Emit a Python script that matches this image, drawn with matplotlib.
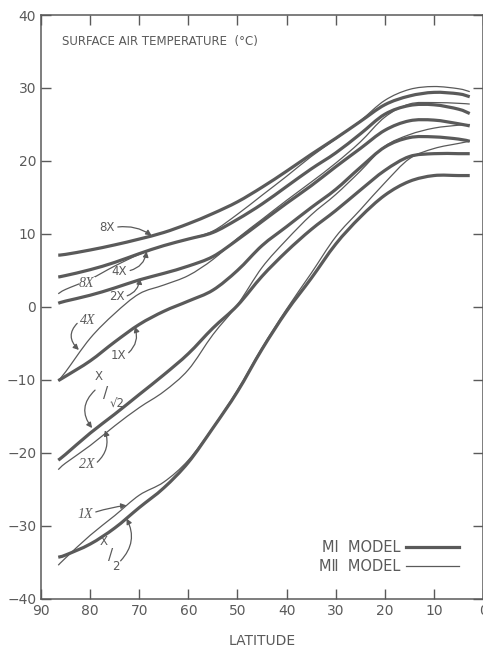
"""Zonal mean surface air temperature vs latitude for CO2 multiples (MI / MII models)."""

import matplotlib

matplotlib.use("Agg")
import matplotlib.pyplot as plt
import numpy as np
from matplotlib.lines import Line2D
from matplotlib.patches import PathPatch
from matplotlib.path import Path

# latitude grid the curves were read on (deg N)
LAT = [86.5, 85, 80, 75, 70, 65, 60, 55, 50, 45, 40, 35, 30, 25, 20, 15, 10, 5, 2.7]

# MI model (thick lines)
MI_8X = [7.1, 7.2, 7.8, 8.5, 9.3, 10.2, 11.4, 12.8, 14.4, 16.4, 18.6, 20.9, 23.1, 25.4, 27.7, 28.9, 29.4, 29.2, 28.8]
MI_4X = [4.1, 4.3, 5.1, 6.1, 7.3, 8.4, 9.3, 10.2, 12.0, 14.1, 16.5, 18.9, 21.1, 23.7, 26.4, 27.6, 27.7, 27.1, 26.5]
MI_2X = [0.5, 0.8, 1.6, 2.6, 3.7, 4.6, 5.6, 6.9, 9.2, 11.7, 14.2, 16.6, 19.2, 21.7, 24.2, 25.5, 25.6, 25.1, 24.8]
MI_1X = [-10.1, -9.5, -7.4, -4.8, -2.4, -0.6, 0.8, 2.3, 5.0, 8.4, 11.0, 13.6, 16.1, 19.1, 21.9, 23.2, 23.3, 23.0, 22.7]
MI_XR2 = [-21.0, -20.2, -17.3, -14.7, -12.0, -9.3, -6.4, -2.9, 0.2, 4.2, 7.6, 10.6, 13.2, 16.0, 18.7, 20.6, 21.0, 21.0, 21.0]
MI_X2 = [-34.3, -34.0, -32.5, -30.3, -27.5, -24.8, -21.3, -16.6, -11.6, -5.8, -0.6, 3.9, 8.6, 12.3, 15.3, 17.2, 18.0, 18.0, 18.0]

# MII model (thin lines)
MII_8X = [1.8, 2.4, 3.8, 5.6, 7.2, 8.4, 9.3, 10.4, 12.7, 15.3, 17.9, 20.6, 23.0, 25.5, 28.3, 29.8, 30.2, 29.9, 29.5]
MII_4X = [-10.1, -8.9, -4.3, -0.9, 1.8, 3.0, 4.3, 6.5, 9.4, 12.0, 14.6, 17.1, 19.7, 22.6, 26.0, 27.8, 28.0, 27.9, 27.8]
MII_2X = [-22.3, -21.4, -19.0, -16.3, -13.8, -11.6, -8.6, -3.8, 0.3, 5.4, 9.2, 12.6, 15.4, 18.6, 22.0, 23.6, 24.5, 24.9, 25.0]
MII_1X = [-35.4, -34.4, -31.3, -28.6, -25.8, -24.0, -21.0, -16.5, -11.4, -5.6, -0.3, 4.6, 9.6, 13.3, 17.0, 20.3, 21.7, 22.4, 22.7]

XTICKS = [90, 80, 70, 60, 50, 40, 30, 20, 10, 0]
YTICKS = [-40, -30, -20, -10, 0, 10, 20, 30, 40]

INK = "#5a5a5a"
THICK = 2.3
THIN = 0.9


def smooth_path(x, y):
    """Catmull-Rom through the read points, as cubic Bezier segments."""
    p = np.column_stack([x, y]).astype(float)
    ext = np.vstack([p[0], p, p[-1]])
    verts = [p[0]]
    codes = [Path.MOVETO]
    for i in range(1, len(ext) - 2):
        p0, p1, p2, p3 = ext[i - 1], ext[i], ext[i + 1], ext[i + 2]
        verts += [p1 + (p2 - p0) / 6, p2 - (p3 - p1) / 6, p2]
        codes += [Path.CURVE4] * 3
    return Path(verts, codes)


fig = plt.figure(figsize=(4.83, 6.53), dpi=100)
ax = fig.add_axes([0.085, 0.083, 0.915, 0.894])

for y in (MI_8X, MI_4X, MI_2X, MI_1X, MI_XR2, MI_X2):
    ax.add_patch(PathPatch(smooth_path(LAT, y), fill=False, edgecolor=INK,
                           lw=THICK, capstyle="butt", zorder=3))
for y in (MII_8X, MII_4X, MII_2X, MII_1X):
    ax.add_patch(PathPatch(smooth_path(LAT, y), fill=False, edgecolor=INK,
                           lw=THIN, zorder=2))

ax.set_xlim(90, 0)
ax.set_ylim(-40, 40)
ax.set_xticks(XTICKS)
ax.set_yticks(YTICKS)
ax.tick_params(direction="in", length=7, width=1, top=True, right=True,
               color=INK, labelcolor=INK, labelsize=10)
for s in ax.spines.values():
    s.set_color(INK)
    s.set_linewidth(1.1)
ax.set_xlabel("LATITUDE", color=INK, fontsize=10, labelpad=12)

ax.text(0.047, 0.954, "SURFACE AIR TEMPERATURE  (°C)", transform=ax.transAxes,
        fontsize=8.5, color=INK, va="center", ha="left")

arrow = dict(arrowstyle="-|>", color=INK, lw=0.9, mutation_scale=8,
             shrinkA=0, shrinkB=0)
up = dict(fontsize=8.5, color=INK, ha="center", va="center")
it = dict(fontsize=10, color=INK, ha="center", va="center",
          family="Liberation Serif", style="italic")

# MI labels
ax.annotate("8X", xy=(67.5, 9.8), xytext=(76.5, 10.9), **up,
            arrowprops=dict(arrow, connectionstyle="arc3,rad=-0.2",
                            relpos=(1.0, 0.5)))
ax.annotate("4X", xy=(68.5, 7.6), xytext=(74.0, 4.9), **up,
            arrowprops=dict(arrow, connectionstyle="arc3,rad=0.35",
                            relpos=(1.0, 0.5)))
ax.annotate("2X", xy=(69.9, 3.9), xytext=(74.6, 1.4), **up,
            arrowprops=dict(arrow, connectionstyle="arc3,rad=0.35",
                            relpos=(1.0, 0.5)))
ax.annotate("1X", xy=(70.9, -2.7), xytext=(74.3, -6.6), **up,
            arrowprops=dict(arrow, connectionstyle="arc3,rad=0.35",
                            relpos=(1.0, 0.5)))
ax.text(78.2, -9.6, "X", **up)
ax.text(76.8, -11.9, "/", fontsize=11, color=INK, ha="center", va="center")
ax.text(74.6, -13.4, "√2", **up)
ax.annotate("", xy=(79.6, -16.6), xytext=(79.0, -11.4),
            arrowprops=dict(arrow, connectionstyle="arc3,rad=0.45"))
ax.text(77.2, -32.2, "X", **up)
ax.text(75.9, -34.1, "/", fontsize=11, color=INK, ha="center", va="center")
ax.text(74.7, -35.6, "2", **up)
ax.annotate("", xy=(72.6, -29.0), xytext=(73.8, -34.8),
            arrowprops=dict(arrow, connectionstyle="arc3,rad=0.35"))

# MII labels
ax.text(80.7, 3.2, "8X", **it, zorder=4,
        bbox=dict(facecolor="white", edgecolor="none", pad=0.3))
ax.annotate("4X", xy=(82.3, -5.9), xytext=(80.5, -1.9), **it,
            arrowprops=dict(arrow, connectionstyle="arc3,rad=0.55",
                            relpos=(0.0, 0.5)))
ax.annotate("2X", xy=(77.0, -16.9), xytext=(80.7, -21.6), **it,
            arrowprops=dict(arrow, connectionstyle="arc3,rad=0.35",
                            relpos=(1.0, 0.5)))
ax.annotate("1X", xy=(72.6, -27.2), xytext=(81.0, -28.4), **it,
            arrowprops=dict(arrow, connectionstyle="arc3,rad=-0.05",
                            relpos=(1.0, 0.6)))

handles = [Line2D([], [], color=INK, lw=THICK), Line2D([], [], color=INK, lw=THIN)]
ax.legend(handles, ["MⅠ  MODEL", "MⅡ  MODEL"], loc="lower right",
          bbox_to_anchor=(0.975, 0.02), markerfirst=False, frameon=False,
          handlelength=3.6, handletextpad=0.4, labelspacing=0.25,
          prop=dict(size=10.5), labelcolor=INK)

fig.savefig("out.png", dpi=100, facecolor="white")
